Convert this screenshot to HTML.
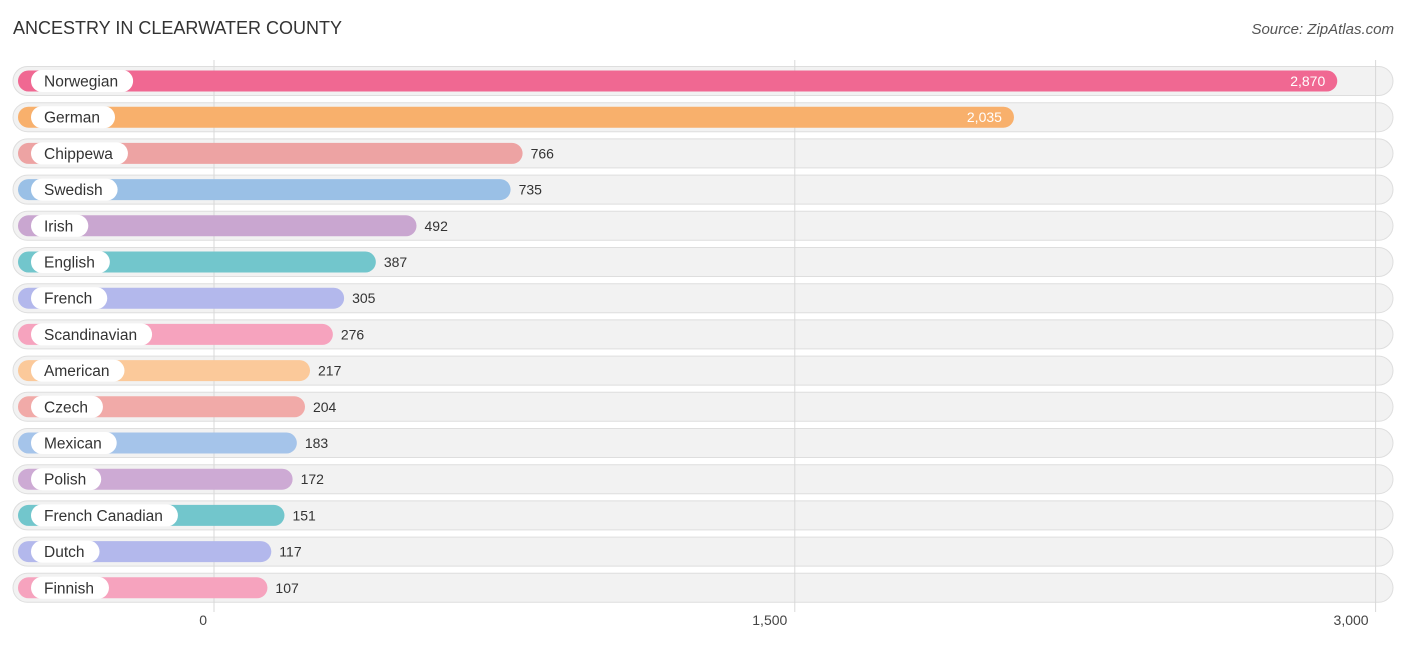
<!DOCTYPE html>
<html><head><meta charset="utf-8"><style>
body{margin:0;background:#fff;width:1406px;height:644px;overflow:hidden;font-family:"Liberation Sans",sans-serif;}
</style></head><body>
<svg id="chart" width="1406" height="644">
<text x="13" y="34" font-size="18" fill="#333">ANCESTRY IN CLEARWATER COUNTY</text>
<text x="1394" y="34" font-size="15" fill="#555" text-anchor="end" font-style="italic">Source: ZipAtlas.com</text>
<g id="bgs"></g><g id="grid"></g><g id="rows"></g><g id="axis"></g>
</svg>
<script>
const categories=["Norwegian","German","Chippewa","Swedish","Irish","English","French","Scandinavian","American","Czech","Mexican","Polish","French Canadian","Dutch","Finnish"];
const values=[2870,2035,766,735,492,387,305,276,217,204,183,172,151,117,107];
const colors=["#f06892","#f8b06c","#eda3a3","#9ac0e6","#c9a6d0","#72c6cc","#b3b8ec","#f6a3be","#fbc99a","#f1aaa8","#a5c4ea","#cdaad4","#72c6cc","#b3b8ec","#f6a3be"];
const ticks=[0,1500,3000];
const tickLabels=["0","1,500","3,000"];
const NS="http://www.w3.org/2000/svg";
const x=v=>214+v*0.3872;
const rowY=i=>81+i*36.2;
function mk(t,a,p){const e=document.createElementNS(NS,t);for(const k in a)e.setAttribute(k,a[k]);p.appendChild(e);return e;}
const bgs=document.getElementById('bgs'),grid=document.getElementById('grid'),rows=document.getElementById('rows'),axis=document.getElementById('axis');
categories.forEach((c,i)=>{
 const y=rowY(i);
 const bg=mk('rect',{x:13,y:y-14.5,width:1380,height:29,rx:14.5,fill:'#f2f2f2',stroke:'#dedede','stroke-width':1},bgs);
 
 
 const end=x(values[i])+12;
 const bar=mk('rect',{x:18,y:y-10.5,width:end-18,height:21,rx:10.5,fill:colors[i]},rows);
 
 
 const pill=mk('rect',{x:31,y:y-11,width:80,height:22,rx:11,fill:'#fff'},rows);
 
 
 const lt=mk('text',{x:44,y:y+5.5,'font-size':15.5,fill:'#333'},rows);
 lt.textContent=c;
 
 
 pill.setAttribute('width',lt.getComputedTextLength()+28);
 const inside=values[i]>1500;
 const vt=mk('text',{x:inside?end-12:end+8,y:y+5,'font-size':14,fill:inside?'#fff':'#333','text-anchor':inside?'end':'start'},rows);
 vt.textContent=values[i].toLocaleString('en-US');
 
 
});
ticks.forEach((t,i)=>{
 const gl=mk('line',{x1:x(t),x2:x(t),y1:60,y2:612,stroke:'#d8d8d8','stroke-width':1},grid);
 
 
 const tl=mk('text',{x:x(t),y:625,'font-size':14,fill:'#444','text-anchor':i==0?'end':(i==ticks.length-1?'end':'middle')},axis);
 if(i==0)tl.setAttribute('x',x(t)-7);
 if(i==ticks.length-1)tl.setAttribute('x',x(t)-7);
 if(i>0&&i<ticks.length-1)tl.setAttribute('x',x(t)-25);
 tl.textContent=tickLabels[i];
 
 
});
</script>
</body></html>
